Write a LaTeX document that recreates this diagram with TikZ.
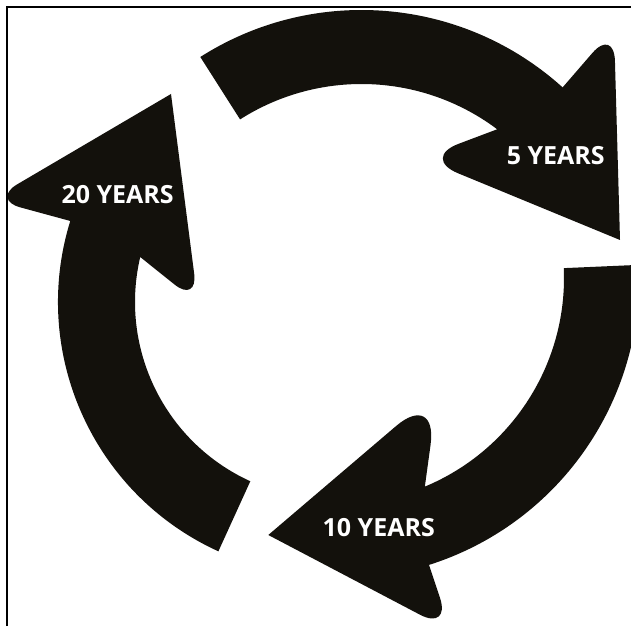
\documentclass[tikz,border=0pt]{standalone}
\usepackage{fontspec}
\setmainfont{Open Sans}
\usetikzlibrary{calc}
\definecolor{ink}{RGB}{19,17,12}
\begin{document}
\begin{tikzpicture}[x=1pt,y=1pt,
  arrowshape/.style={fill=ink},
  yrs/.style={text=white,font=\fontsize{25}{30}\selectfont\bfseries,inner sep=0pt},
  frameline/.style={draw=black,line width=2.6pt}]
\useasboundingbox (0,0) rectangle (631,626);
\coordinate (cA) at (361.5,316);
\coordinate (cB) at (338,348);
\coordinate (cC) at (332,324);
% arrow to 5 years
\fill[arrowshape] ($(cA)+(122.5:300pt)$) arc[start angle=122.5,end angle=47.9,radius=300pt]
  [rounded corners=33pt] -- (614,598) [sharp corners] -- (620,386)
  [rounded corners=40pt] -- (421,468) [sharp corners] -- ($(cA)+(53.1:226pt)$)
  arc[start angle=53.1,end angle=122.5,radius=226pt] -- cycle;
% arrow to 10 years
\fill[arrowshape] ($(cB)+(2.5:301pt)$) arc[start angle=2.5,end angle=-72.4,radius=301pt]
  [rounded corners=35pt] -- (451,-5) [sharp corners] -- (268.3,91)
  [rounded corners=55pt] -- (438,235.7) [sharp corners] -- ($(cB)+(-67.4:226pt)$)
  arc[start angle=-67.4,end angle=2.5,radius=226pt] -- cycle;
% arrow to 20 years
\fill[arrowshape] ($(cC)+(245.5:274pt)$) arc[start angle=245.5,end angle=162.8,radius=274pt]
  [rounded corners=30pt] -- (-8.6,426.5) [sharp corners] -- (171,532)
  [rounded corners=30pt] -- (198,322.7) [sharp corners] -- ($(cC)+(166.8:197pt)$)
  arc[start angle=166.8,end angle=245.5,radius=197pt] -- cycle;
\node[yrs] (t5) at (555.8,470.2) {5 YEARS};
\node[yrs] (t20) at (117.7,431.8) {20 YEARS};
\node[yrs] (t10) at (378.7,98.5) {10 YEARS};
\draw[frameline] (7,0) -- (7,619) -- (631,619);
\end{tikzpicture}
\end{document}
